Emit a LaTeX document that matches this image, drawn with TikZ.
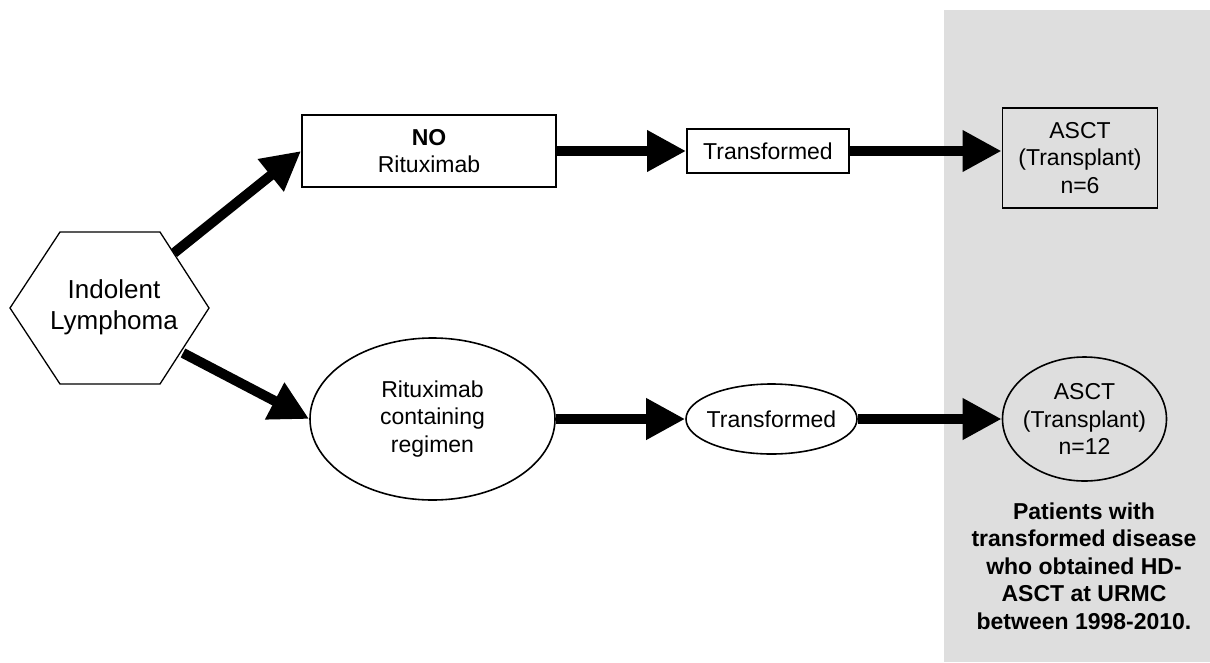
\documentclass[tikz,border=0pt]{standalone}
\usepackage{fontspec}
\setmainfont{Liberation Sans}
\usetikzlibrary{arrows.meta,shapes.geometric,calc}
\definecolor{panelgray}{RGB}{222,222,222}
\begin{document}
\begin{tikzpicture}[x=1pt,y=-1pt,
  txt/.style={font=\fontsize{23}{27.6}\selectfont, align=center, inner sep=0pt},
  rectbox/.style={txt, draw, line width=1.8pt},
  ellnode/.style={txt, ellipse, draw, line width=1.6pt, inner xsep=-12pt, inner ysep=0pt},
  arr/.style={line width=10pt, -{Triangle[length=39pt,width=39pt]}},
]
\useasboundingbox (0,0) rectangle (1210,662);
\fill[panelgray] (944,10) rectangle (1210,662);

% hexagon
\draw[line width=1.3pt, line join=miter] (10,308) -- (60,232) -- (160,232) -- (209,308) -- (160,384) -- (60,384) -- cycle;
\node[font=\fontsize{26}{31}\selectfont, align=center, inner sep=0pt] (hex) at (114,307) {Indolent\\Lymphoma};
\coordinate (h1) at (174,253);
\coordinate (h2) at (183,353);

% upper row
\node[rectbox, minimum width=254pt, minimum height=72pt] (norit) at (429,151) {\textbf{NO}\\Rituximab};
\node[rectbox, minimum width=162pt, minimum height=44pt] (tr1) at (768,151) {Transformed};
\node[rectbox, minimum width=155pt, minimum height=100pt] (asct1) at (1080,158) {ASCT\\(Transplant)\\n=6};

% lower row
\node[ellnode, minimum width=245pt, minimum height=162pt] (rit) at (432.5,419) {Rituximab\\containing\\regimen};
\node[ellnode, minimum width=171pt, minimum height=70pt] (tr2) at (771.5,419) {Transformed};
\node[ellnode, minimum width=164pt, minimum height=124pt] (asct2) at (1084.5,419) {ASCT\\(Transplant)\\n=12};

% note
\node[txt, font=\fontsize{23}{27.5}\selectfont\bfseries] (note) at (1084,566) {Patients with\\transformed disease\\who obtained HD-\\ASCT at URMC\\between 1998-2010.};

% arrows
\draw[arr] (h1) -- (norit.west);
\draw[arr] (h2) -- (rit.west);
\draw[arr] (norit.east) -- (tr1.west);
\draw[arr] (tr1.east) -- (tr1.east -| asct1.west);
\draw[arr] (rit.east) -- (tr2.west);
\draw[arr] (tr2.east) -- (asct2.west);
\end{tikzpicture}
\end{document}
